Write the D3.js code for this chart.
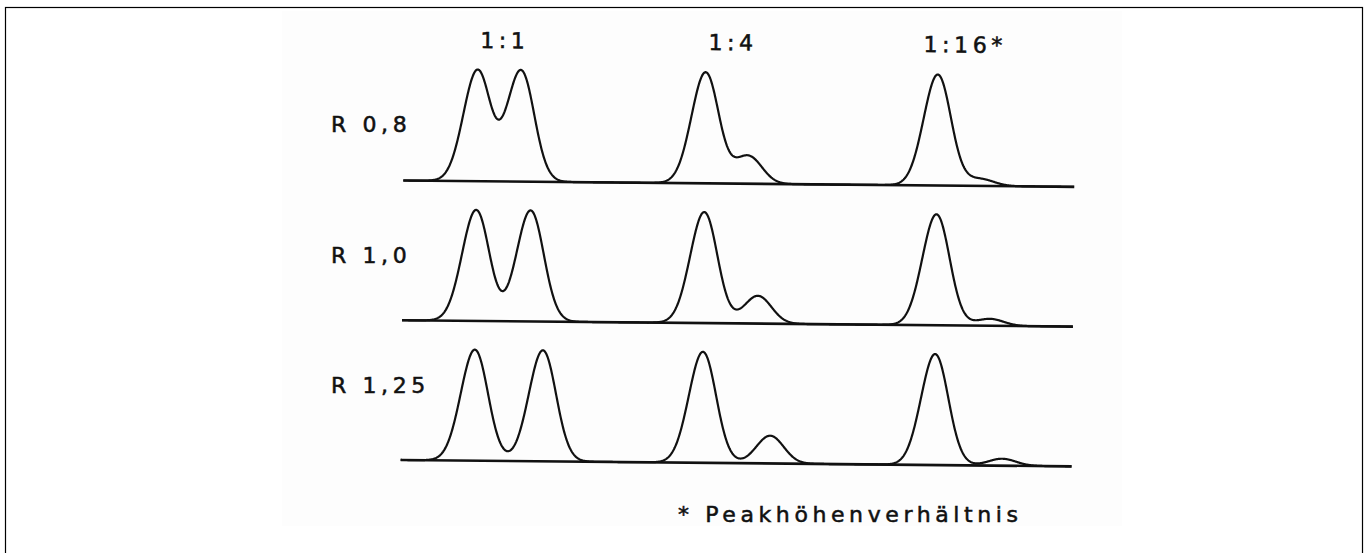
<!DOCTYPE html>
<html>
<head>
<meta charset="utf-8">
<script src="https://cdn.jsdelivr.net/npm/d3@7"></script>
<style>
  html, body { margin: 0; padding: 0; background: #fff; }
  svg { display: block; }
  .lbl { font-family: "DejaVu Sans", sans-serif; font-size: 22px; letter-spacing: 4.6px; fill: #111; stroke: #111; stroke-width: 0.55px; }
</style>
</head>
<body>
<svg id="chart" width="1369" height="553"></svg>
<script>
// Two-peak chromatograms: three resolutions (rows) by three peak-height ratios (columns)
const rowLabels = ["R 0,8", "R 1,0", "R 1,25"];
const resolutions = [0.8, 1.0, 1.25];
const columnLabels = ["1:1", "1:4", "1:16*"];
const heightRatios = [1, 4, 16];               // major : minor peak height
const mainPeakTimes = [5.37, 22.13, 39.19];    // retention of the major peak, in peak standard deviations
const runLength = 49.3;                        // length of each trace, same units
const footnote = "* Peakhöhenverhältnis";

const W = 1369, H = 553;
const svg = d3.select("#chart");

// sheet and frame
svg.append("rect")
  .attr("x", 282).attr("y", 11).attr("width", 840).attr("height", 515)
  .attr("fill", "#fdfdfd");
svg.append("rect")
  .attr("x", 5.5).attr("y", 7.5).attr("width", 1357).attr("height", H)
  .attr("fill", "none").attr("stroke", "#000").attr("stroke-width", 1.2);

// the plotted traces sit at a slight angle on the sheet
const tilt = 0.0095;
const pivot = [700, 320];
const plot = svg.append("g")
  .attr("transform", `rotate(${tilt * 180 / Math.PI} ${pivot[0]} ${pivot[1]})`);

const x = d3.scaleLinear().domain([0, runLength]).range([402, 1073]);
const rowY = d3.scalePoint().domain(d3.range(rowLabels.length)).range([183.3, 462.8]);
const peakHeight = 111;
const y = d3.scaleLinear().domain([0, 1]).range([0, -peakHeight]);

const gauss = u => Math.exp(-u * u / 2);

// detector signal for one row: every column contributes a major peak and a minor one
// separated by 4·σ·R
function signal(t, R) {
  let s = 0;
  mainPeakTimes.forEach((t0, c) => {
    s += gauss(t - t0) + gauss(t - t0 - 4 * R) / heightRatios[c];
  });
  return s;
}

const samples = d3.range(0, runLength + 1e-9, 0.04);

resolutions.forEach((R, i) => {
  const base = rowY(i);
  const row = plot.append("g").attr("transform", `translate(0,${base})`);

  // baseline
  row.append("line")
    .attr("x1", x(0)).attr("x2", x(runLength))
    .attr("y1", 0).attr("y2", 0)
    .attr("stroke", "#111").attr("stroke-width", 2.6);

  // trace
  const line = d3.line()
    .x(t => x(t))
    .y(t => y(signal(t, R)))
    .curve(d3.curveLinear);
  row.append("path")
    .attr("d", line(samples))
    .attr("fill", "none")
    .attr("stroke", "#111")
    .attr("stroke-width", 2.2)
    .attr("stroke-linejoin", "round");
});

// column headings, centred over the pair at unit resolution
plot.selectAll("text.col")
  .data(columnLabels)
  .join("text")
  .attr("class", "lbl col")
  .attr("x", (d, c) => x(mainPeakTimes[c] + 2))
  .attr("y", 50)
  .attr("text-anchor", "middle")
  .text(d => d);

// row labels
const labelY = d3.scalePoint().domain(d3.range(rowLabels.length)).range([132, 393]);
svg.selectAll("text.row")
  .data(rowLabels)
  .join("text")
  .attr("class", "lbl row")
  .attr("x", 331)
  .attr("y", (d, i) => labelY(i))
  .text(d => d);

// footnote
svg.append("text")
  .attr("class", "lbl")
  .attr("x", 678)
  .attr("y", 522)
  .text(footnote);
</script>
</body>
</html>
